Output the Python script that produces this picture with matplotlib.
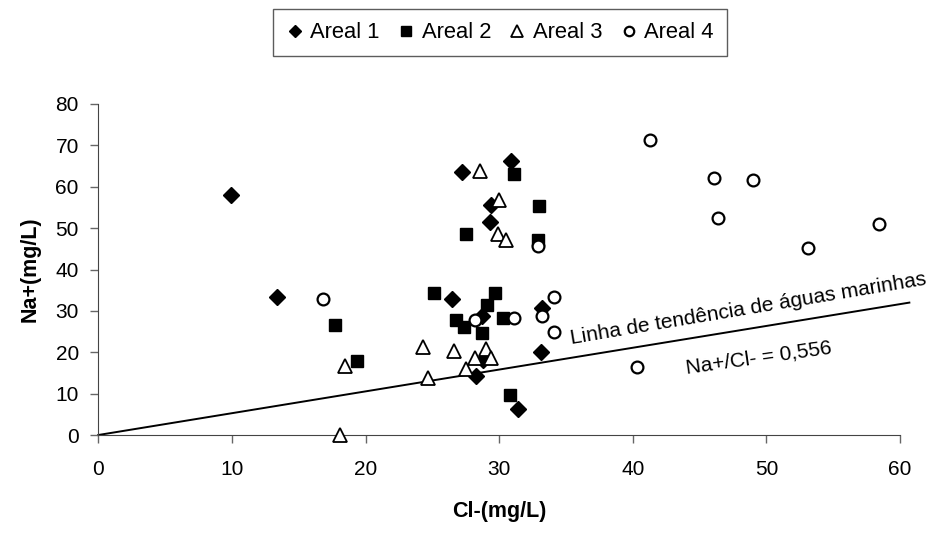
import numpy as np
import matplotlib.pyplot as plt

plt.rcParams['font.family'] = ['Liberation Sans', 'DejaVu Sans']

# Areal 1 (diamonds)
a1_x = [9.9, 13.4, 27.2, 30.9, 29.4, 29.3, 26.5, 33.2, 28.7, 33.1, 28.8, 28.3, 31.4]
a1_y = [58.0, 33.4, 63.6, 66.3, 55.6, 51.4, 32.9, 30.8, 28.8, 20.1, 18.1, 14.3, 6.3]
# Areal 2 (squares)
a2_x = [31.1, 33.0, 27.5, 32.9, 25.1, 29.7, 29.1, 26.75, 27.4, 28.7, 30.3, 17.7, 19.4, 30.8]
a2_y = [63.2, 55.4, 48.7, 47.1, 34.4, 34.4, 31.4, 27.8, 26.2, 24.7, 28.2, 26.6, 17.9, 9.7]
# Areal 3 (triangles)
a3_x = [28.6, 30.0, 29.9, 30.5, 24.3, 26.6, 29.0, 28.2, 29.4, 18.5, 24.7, 27.5, 18.1]
a3_y = [63.8, 56.8, 48.6, 47.1, 21.3, 20.3, 20.9, 18.7, 18.7, 16.7, 13.7, 15.9, 0.0]
# Areal 4 (circles)
a4_x = [16.8, 28.2, 31.1, 32.9, 34.1, 33.2, 34.1, 41.3, 46.1, 49.0, 46.4, 58.4, 53.1, 40.3]
a4_y = [32.9, 27.8, 28.2, 45.7, 33.4, 28.8, 24.8, 71.3, 62.0, 61.6, 52.5, 50.9, 45.2, 16.5]

# linha de tendência de águas marinhas
trend_x = [0, 60.7]
trend_y = [0, 32.0]

fig = plt.figure(figsize=(9.43, 5.36), dpi=100)
ax = fig.add_axes([0.1042, 0.1884, 0.8502, 0.6176])

ax.plot(trend_x, trend_y, color='black', linewidth=1.4, zorder=1, clip_on=False)

kw = dict(linestyle='none', clip_on=False, zorder=3)
ax.plot(a1_x, a1_y, marker='D', markersize=8, color='black', label='Areal 1', **kw)
ax.plot(a2_x, a2_y, marker='s', markersize=9.2, color='black', label='Areal 2', **kw)
ax.plot(a3_x, a3_y, marker='^', markersize=10.5, markerfacecolor='white',
        markeredgecolor='black', markeredgewidth=1.3, label='Areal 3', **kw)
ax.plot(a4_x, a4_y, marker='o', markersize=8.5, markerfacecolor='white',
        markeredgecolor='black', markeredgewidth=1.6, label='Areal 4', **kw)

ax.set_xlim(0, 60)
ax.set_ylim(0, 80)
ax.set_xticks(np.arange(0, 61, 10))
ax.set_yticks(np.arange(0, 81, 10))
for side in ['top', 'right']:
    ax.spines[side].set_visible(False)
for side in ['left', 'bottom']:
    ax.spines[side].set_color('#444444')
ax.tick_params(axis='both', colors='#666666', labelcolor='black', labelsize=15,
               length=6, width=1)
ax.tick_params(axis='x', pad=12)
ax.tick_params(axis='y', pad=8)

ax.set_xlabel('Cl-(mg/L)', fontsize=15.5, fontweight='bold', labelpad=16)
ax.set_ylabel('Na+(mg/L)', fontsize=15.5, fontweight='bold', labelpad=11)

ax.text(35.4, 22.1, 'Linha de tendência de águas marinhas', fontsize=15,
        rotation=9.5, rotation_mode='anchor', ha='left', va='baseline')
ax.text(44.0, 14.9, 'Na+/Cl- = 0,556', fontsize=15,
        rotation=8, rotation_mode='anchor', ha='left', va='baseline')

leg = fig.legend(loc='center', bbox_to_anchor=(0.530, 0.939), ncol=4, fontsize=15.8,
                 frameon=True, fancybox=False, edgecolor='#333333', markerscale=0.8,
                 handlelength=0.8, handletextpad=0.3, columnspacing=0.8,
                 borderpad=0.6)
leg.get_frame().set_linewidth(1.0)

fig.savefig('out.png', dpi=100)
